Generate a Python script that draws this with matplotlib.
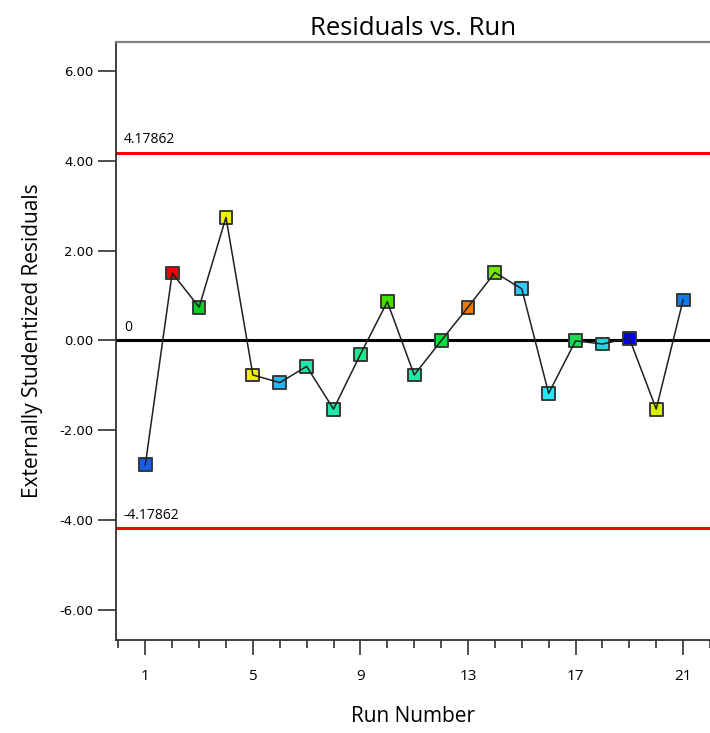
import numpy as np
import matplotlib
matplotlib.use('Agg')
import matplotlib.pyplot as plt
from matplotlib.ticker import MultipleLocator, FixedLocator

# datos
run = list(range(1, 22))
residuals = [-2.77, 1.50, 0.74, 2.74, -0.77, -0.94, -0.58, -1.53, -0.31, 0.86,
             -0.77, -0.01, 0.74, 1.51, 1.15, -1.18, -0.01, -0.08, 0.05, -1.53, 0.90]
colores = ['#1060e8', '#f00000', '#00d020', '#f0f000', '#f0f000', '#20b8f0', '#20e8a8',
           '#20e8a8', '#20e890', '#40e000', '#20e8a8', '#00e040', '#f07800', '#70e800',
           '#30c8f8', '#20e8f8', '#10e050', '#20d8e0', '#0000f0', '#d8f000', '#1078e8']
limite = 4.17862
yticks = [-6, -4, -2, 0, 2, 4, 6]
xticks = [1, 5, 9, 13, 17, 21]

fig = plt.figure(figsize=(7.10, 7.33), dpi=100)
ax = fig.add_axes([0.163, 0.127, 0.837, 0.816])

ax.axhline(limite, color='#ff0000', lw=2.2, zorder=1)
ax.axhline(-limite, color='#ff0000', lw=2.2, zorder=1)
ax.axhline(0, color='black', lw=2.2, zorder=1)

ax.scatter(run, residuals, c=colores, marker='s', s=85, edgecolors='#383838',
           linewidths=1.4, zorder=2)
ax.plot(run, residuals, color='#202020', lw=1.1, zorder=3)

ax.text(0.2, limite + 0.12, '4.17862', fontsize=10, family='Open Sans', va='bottom')
ax.text(0.2, -limite + 0.12, '-4.17862', fontsize=10, family='Open Sans', va='bottom')
ax.text(0.2, 0.12, '0', fontsize=10, family='Open Sans', va='bottom')

ax.set_xlim(-0.1, 22.0)
ax.set_ylim(-6.67, 6.65)
ax.set_yticks(yticks)
ax.set_yticklabels(['%.2f' % v for v in yticks], family='DejaVu Sans', fontsize=9.5)
ax.xaxis.set_major_locator(FixedLocator(xticks))
ax.xaxis.set_minor_locator(MultipleLocator(1))
ax.set_xticklabels([str(v) for v in xticks], family='Open Sans', fontsize=11)

ax.tick_params(axis='y', length=13, width=1.2, color='#303030', pad=3)
ax.tick_params(axis='x', which='major', length=11, width=1.2, color='#303030', pad=10)
ax.tick_params(axis='x', which='minor', length=6, width=1.2, color='#303030')

ax.spines['right'].set_visible(False)
ax.spines['top'].set_color('#808080')
ax.spines['top'].set_linewidth(1.6)
ax.spines['left'].set_color('#303030')
ax.spines['left'].set_linewidth(1.3)
ax.spines['bottom'].set_color('#303030')
ax.spines['bottom'].set_linewidth(1.3)

ax.set_title('Residuals vs. Run', family='Open Sans', fontsize=18.5, pad=5)
ax.set_xlabel('Run Number', family='Open Sans', fontsize=15, labelpad=16)
ax.set_ylabel('Externally Studentized Residuals', family='Open Sans', fontsize=15, labelpad=12)

plt.savefig('out.png', dpi=100)
